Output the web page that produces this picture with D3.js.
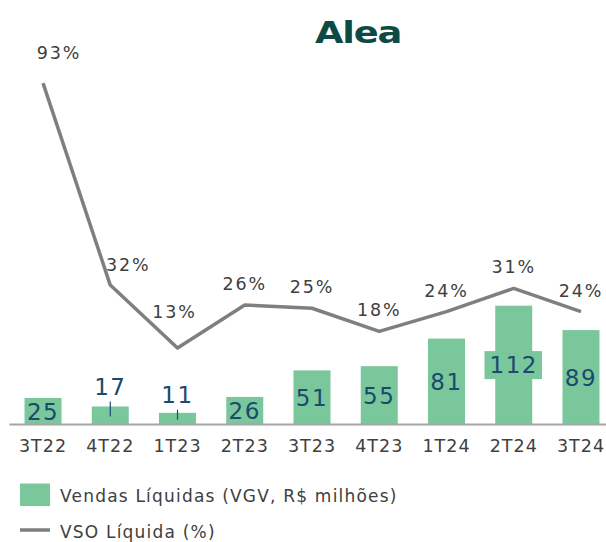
<!DOCTYPE html>
<html>
<head>
<meta charset="utf-8">
<script src="https://cdn.jsdelivr.net/npm/d3@7"></script>
<style>
  body { margin: 0; background: #fff; }
  text { font-family: "DejaVu Sans", sans-serif; }
</style>
</head>
<body>
<svg id="chart" width="606" height="542"></svg>
<script>
const quarters = ["3T22", "4T22", "1T23", "2T23", "3T23", "4T23", "1T24", "2T24", "3T24"];
const vendas = [25, 17, 11, 26, 51, 55, 81, 112, 89];
const vso = [93, 32, 13, 26, 25, 18, 24, 31, 24];
const legendLabels = ["Vendas Líquidas (VGV, R$ milhões)", "VSO Líquida (%)"];

const barColor = "#79c79b";
const lineColor = "#7f7f7f";
const labelBlue = "#1a4a6e";
const textGray = "#404040";

const svg = d3.select("#chart");

// escalas
const x = d3.scaleBand()
    .domain(quarters)
    .range([9.4, 614.6])
    .paddingInner(0.45)
    .paddingOuter(0.225);

const yBar = d3.scaleLinear().domain([0, 112]).range([424.5, 305.7]);
const yLine = d3.scaleLinear().domain([0, 100]).range([391, 60]);

// logo
svg.append("text")
    .attr("x", 315)
    .attr("y", 43)
    .attr("textLength", 86)
    .attr("lengthAdjust", "spacingAndGlyphs")
    .style("font-size", "30px")
    .style("font-weight", "bold")
    .style("letter-spacing", "-1px")
    .attr("fill", "#0d4a45")
    .text("Alea");

// barras
svg.selectAll(".bar")
    .data(quarters)
    .enter()
    .append("rect")
    .attr("class", "bar")
    .attr("x", d => x(d))
    .attr("y", (d, i) => yBar(vendas[i]))
    .attr("width", x.bandwidth())
    .attr("height", (d, i) => yBar(0) - yBar(vendas[i]))
    .attr("fill", barColor);

// eixo X
const xAxis = svg.append("g")
    .attr("transform", `translate(0, ${yBar(0)})`)
    .call(d3.axisBottom(x).tickSize(0).tickPadding(0));
xAxis.select(".domain")
    .attr("d", `M9.4,0H606`)
    .attr("stroke", "#a6a6a6")
    .attr("stroke-width", 2);
xAxis.selectAll("text")
    .attr("y", 27)
    .attr("dy", 0)
    .attr("fill", textGray)
    .style("font-size", "17.5px")
    .style("letter-spacing", "1px")
    .style("font-family", "DejaVu Sans, sans-serif");

// rótulos das barras (alguns deslocados para cima com linha guia)
const barNudge = { "4T22": -29, "1T23": -24 };
const barLabels = svg.append("g");
quarters.forEach((q, i) => {
    const cx = x(q) + x.bandwidth() / 2;
    const cy = (yBar(vendas[i]) + yBar(0)) / 2;
    const shift = barNudge[q] || 0;
    const g = barLabels.append("g");
    const t = g.append("text")
        .attr("x", cx)
        .attr("y", cy + shift + 8.3)
        .attr("text-anchor", "middle")
        .attr("fill", labelBlue)
        .style("font-size", "23px")
        .style("letter-spacing", "1.5px")
        .text(vendas[i]);
    const bb = t.node().getBBox();
    if (bb.width > x.bandwidth()) {
        g.insert("rect", "text")
            .attr("x", cx - bb.width / 2 - 5)
            .attr("y", cy - 14)
            .attr("width", bb.width + 9)
            .attr("height", 28)
            .attr("fill", barColor);
    }
    if (shift) {
        g.append("line")
            .attr("x1", cx).attr("x2", cx)
            .attr("y1", cy + shift + 15)
            .attr("y2", cy + 1)
            .attr("stroke", labelBlue)
            .attr("stroke-width", 1.2);
    }
});

// linha VSO
const line = d3.line()
    .x((d, i) => x(quarters[i]) + x.bandwidth() / 2)
    .y(d => yLine(d));

svg.append("path")
    .datum(vso)
    .attr("d", line)
    .attr("fill", "none")
    .attr("stroke", lineColor)
    .attr("stroke-width", 3.5)
    .attr("stroke-linejoin", "round");

// rótulos de %
const pctNudge = { "3T22": [16, -24], "4T22": [18, -14], "1T23": [-3, -30] };
svg.selectAll(".pct")
    .data(vso)
    .enter()
    .append("text")
    .attr("class", "pct")
    .attr("x", (d, i) => x(quarters[i]) + x.bandwidth() / 2 + (pctNudge[quarters[i]] || [0, -15])[0])
    .attr("y", (d, i) => yLine(d) + (pctNudge[quarters[i]] || [0, -15])[1])
    .attr("text-anchor", "middle")
    .attr("fill", textGray)
    .style("font-size", "17.5px")
    .style("letter-spacing", "1.8px")
    .text(d => d + "%");

// legenda
const legend = svg.append("g");
legend.append("rect")
    .attr("x", 20).attr("y", 483.5)
    .attr("width", 30).attr("height", 22.5)
    .attr("fill", barColor);
legend.append("line")
    .attr("x1", 20).attr("x2", 50)
    .attr("y1", 530).attr("y2", 530)
    .attr("stroke", lineColor)
    .attr("stroke-width", 3.5);
legendLabels.forEach((lbl, i) => {
    legend.append("text")
        .attr("x", 60)
        .attr("y", 502.3 + i * 36)
        .attr("fill", textGray)
        .style("font-size", "17px")
        .style("letter-spacing", "1.2px")
        .text(lbl);
});
</script>
</body>
</html>
